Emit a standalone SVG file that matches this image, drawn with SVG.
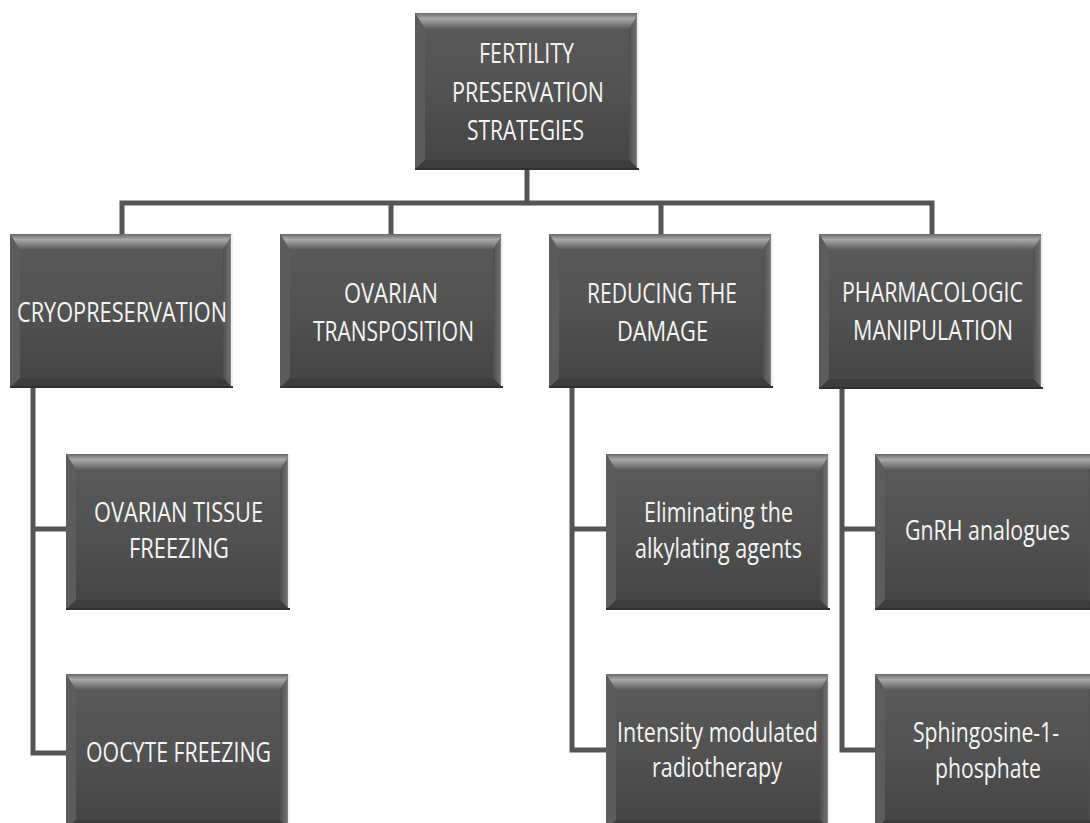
<svg xmlns="http://www.w3.org/2000/svg" width="1090" height="823" viewBox="0 0 1090 823">
<defs>
<linearGradient id="body" x1="0" y1="0" x2="0" y2="1">
<stop offset="0" stop-color="#5a5a5a"/>
<stop offset="0.5" stop-color="#525252"/>
<stop offset="1" stop-color="#434343"/>
</linearGradient>
<linearGradient id="topb" x1="0" y1="0" x2="0" y2="1">
<stop offset="0" stop-color="#6a6a6a"/>
<stop offset="0.35" stop-color="#a8a8a8"/>
<stop offset="1" stop-color="#5a5a5a"/>
</linearGradient>
<linearGradient id="rightb" x1="0" y1="0" x2="1" y2="0">
<stop offset="0" stop-color="#4e4e4e"/>
<stop offset="0.7" stop-color="#6e6e6e"/>
<stop offset="1" stop-color="#dcdcdc"/>
</linearGradient>
<symbol id="box" viewBox="0 0 224 156" preserveAspectRatio="none">
<rect x="0" y="0" width="224" height="156" fill="url(#body)"/>
<polygon points="0,0 224,0 214,16 10,16" fill="url(#topb)"/>
<polygon points="0,0 10,16 10,146 0,156" fill="#5c5c5c"/>
<polygon points="224,0 214,16 214,146 224,156" fill="url(#rightb)"/>
<polygon points="0,156 10,146 214,146 224,156" fill="#3c3c3c"/>
<rect x="222" y="0" width="2" height="156" fill="#f0f0f0"/>
<rect x="0" y="154" width="224" height="2" fill="#303030"/>
</symbol>
</defs>
<style>
.lbl{font-family:"Open Sans","Liberation Sans",sans-serif;font-size:28px;fill:#f4f4f4}
.conn{fill:none;stroke:#555555;stroke-width:5}
</style>
<rect width="1090" height="823" fill="#ffffff"/>
<g id="connectors">
<path class="conn" d="M527 170 V203"/>
<path class="conn" d="M122 236 V203 H932 V236"/>
<path class="conn" d="M391 203 V236"/>
<path class="conn" d="M661 203 V236"/>
<path class="conn" d="M33 388 V753 H67"/>
<path class="conn" d="M33 529 H67"/>
<path class="conn" d="M572 388 V750 H607"/>
<path class="conn" d="M572 529 H607"/>
<path class="conn" d="M842 389 V750 H876"/>
<path class="conn" d="M842 529 H876"/>
</g>
<g id="root">
<use href="#box" x="415" y="13" width="224" height="157"/>
<text class="lbl" x="479" y="63" textLength="95" lengthAdjust="spacingAndGlyphs">FERTILITY</text>
<text class="lbl" x="452" y="102" textLength="152" lengthAdjust="spacingAndGlyphs">PRESERVATION</text>
<text class="lbl" x="467" y="140" textLength="117" lengthAdjust="spacingAndGlyphs">STRATEGIES</text>
</g>
<g id="cryo">
<use href="#box" x="10" y="234" width="223" height="154"/>
<text class="lbl" x="17" y="322" textLength="210" lengthAdjust="spacingAndGlyphs">CRYOPRESERVATION</text>
</g>
<g id="transposition">
<use href="#box" x="280" y="234" width="223" height="154"/>
<text class="lbl" x="344" y="303" textLength="94" lengthAdjust="spacingAndGlyphs">OVARIAN</text>
<text class="lbl" x="313" y="341" textLength="161" lengthAdjust="spacingAndGlyphs">TRANSPOSITION</text>
</g>
<g id="reducing">
<use href="#box" x="549" y="234" width="224" height="154"/>
<text class="lbl" x="587" y="303" textLength="150" lengthAdjust="spacingAndGlyphs">REDUCING THE</text>
<text class="lbl" x="617" y="341" textLength="91" lengthAdjust="spacingAndGlyphs">DAMAGE</text>
</g>
<g id="pharma">
<use href="#box" x="819" y="234" width="224" height="155"/>
<text class="lbl" x="842" y="302" textLength="181" lengthAdjust="spacingAndGlyphs">PHARMACOLOGIC</text>
<text class="lbl" x="853" y="340" textLength="160" lengthAdjust="spacingAndGlyphs">MANIPULATION</text>
</g>
<g id="tissue">
<use href="#box" x="66" y="454" width="224" height="156"/>
<text class="lbl" x="94" y="522" textLength="169" lengthAdjust="spacingAndGlyphs">OVARIAN TISSUE</text>
<text class="lbl" x="129" y="558" textLength="100" lengthAdjust="spacingAndGlyphs">FREEZING</text>
</g>
<g id="oocyte">
<use href="#box" x="66" y="674" width="224" height="156"/>
<text class="lbl" x="86" y="762" textLength="185" lengthAdjust="spacingAndGlyphs">OOCYTE FREEZING</text>
</g>
<g id="eliminating">
<use href="#box" x="606" y="454" width="224" height="156"/>
<text class="lbl" x="644" y="522" textLength="149" lengthAdjust="spacingAndGlyphs">Eliminating the</text>
<text class="lbl" x="635" y="558" textLength="167" lengthAdjust="spacingAndGlyphs">alkylating agents</text>
</g>
<g id="imrt">
<use href="#box" x="606" y="674" width="224" height="156"/>
<text class="lbl" x="617" y="742" textLength="201" lengthAdjust="spacingAndGlyphs">Intensity modulated</text>
<text class="lbl" x="652" y="777" textLength="130" lengthAdjust="spacingAndGlyphs">radiotherapy</text>
</g>
<g id="gnrh">
<use href="#box" x="875" y="454" width="224" height="156"/>
<text class="lbl" x="905" y="540" textLength="165" lengthAdjust="spacingAndGlyphs">GnRH analogues</text>
</g>
<g id="s1p">
<use href="#box" x="875" y="674" width="224" height="156"/>
<text class="lbl" x="913" y="742" textLength="146" lengthAdjust="spacingAndGlyphs">Sphingosine-1-</text>
<text class="lbl" x="935" y="778" textLength="106" lengthAdjust="spacingAndGlyphs">phosphate</text>
</g>
</svg>
